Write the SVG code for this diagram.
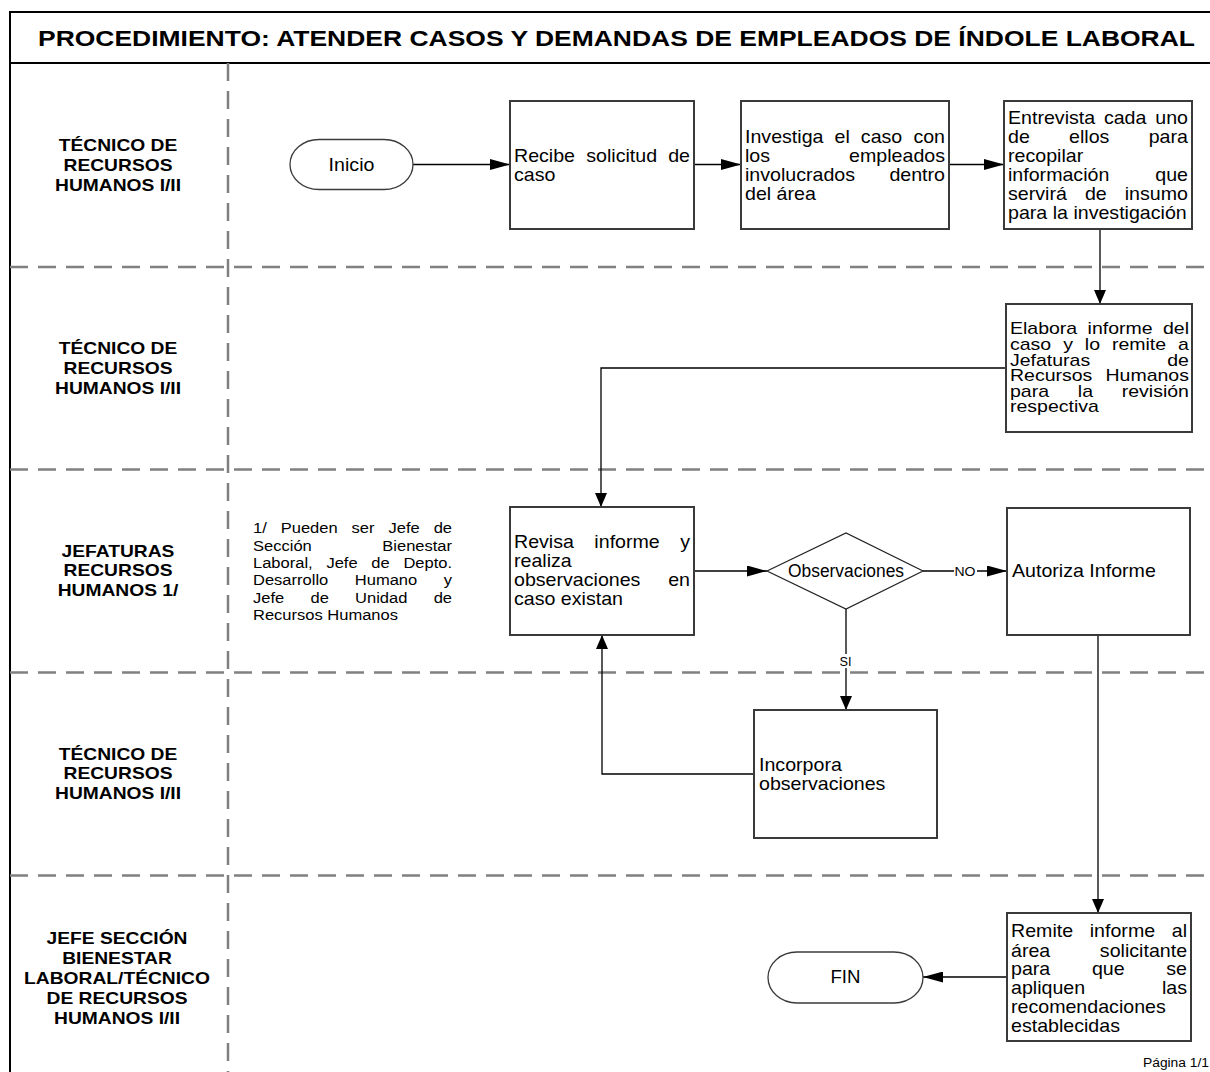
<svg xmlns="http://www.w3.org/2000/svg" width="1210" height="1072" viewBox="0 0 1210 1072">
<style>
.frame{stroke:#000;stroke-width:2;fill:none}
.lane{stroke:#808080;stroke-width:2.5;stroke-dasharray:18 10;fill:none}
.box{fill:#fff;stroke:#3a3a3a;stroke-width:2}
.term{fill:#fff;stroke:#3a3a3a;stroke-width:1.3}
.dec{fill:#fff;stroke:#222;stroke-width:1.2}
.con{fill:none;stroke:#000;stroke-width:1.3}
.t{font-family:"Liberation Sans",Arial,sans-serif;font-size:18px;fill:#000}
.t16{font-family:"Liberation Sans",Arial,sans-serif;font-size:16px;fill:#000}
.n{font-family:"Liberation Sans",Arial,sans-serif;font-size:14.5px;fill:#000}
.lbl{font-family:"Liberation Sans",Arial,sans-serif;font-size:16.3px;font-weight:bold;fill:#000;text-anchor:middle}
.title{font-family:"Liberation Sans",Arial,sans-serif;font-size:21.5px;font-weight:bold;fill:#000}
.small{font-family:"Liberation Sans",Arial,sans-serif;font-size:12px;fill:#000}
</style>
<defs>
<marker id="ah" viewBox="0 0 20 11" refX="20" refY="5.5" markerWidth="20" markerHeight="11" orient="auto" markerUnits="userSpaceOnUse"><path d="M0,0 L20,5.5 L0,11 z" fill="#000"/></marker>
<marker id="av" viewBox="0 0 14 12" refX="14" refY="6" markerWidth="14" markerHeight="12" orient="auto" markerUnits="userSpaceOnUse"><path d="M0,0 L14,6 L0,12 z" fill="#000"/></marker>
</defs>
<rect width="1210" height="1072" fill="#fff"/>

<g id="frame">
<path class="frame" d="M10,1072 V12 H1210 M10,63 H1210"/>
<text class="title" x="38" y="46" textLength="1157" lengthAdjust="spacingAndGlyphs">PROCEDIMIENTO: ATENDER CASOS Y DEMANDAS DE EMPLEADOS DE ÍNDOLE LABORAL</text>
</g>

<g id="lanes">
<path class="lane" d="M228,63 V1072"/>
<path class="lane" d="M10,267 H1210 M10,469.5 H1210 M10,672.5 H1210 M10,875.5 H1210"/>
<g id="lane1"><text class="lbl" transform="translate(118 0) scale(1.18 1)"><tspan x="0" y="151.3">TÉCNICO DE</tspan><tspan x="0" y="171">RECURSOS</tspan><tspan x="0" y="190.7">HUMANOS I/II</tspan></text></g>
<g id="lane2"><text class="lbl" transform="translate(118 0) scale(1.18 1)"><tspan x="0" y="354.3">TÉCNICO DE</tspan><tspan x="0" y="374">RECURSOS</tspan><tspan x="0" y="393.7">HUMANOS I/II</tspan></text></g>
<g id="lane3"><text class="lbl" transform="translate(118 0) scale(1.18 1)"><tspan x="0" y="556.8">JEFATURAS</tspan><tspan x="0" y="576.5">RECURSOS</tspan><tspan x="0" y="596.2">HUMANOS 1/</tspan></text></g>
<g id="lane4"><text class="lbl" transform="translate(118 0) scale(1.18 1)"><tspan x="0" y="759.8">TÉCNICO DE</tspan><tspan x="0" y="779.5">RECURSOS</tspan><tspan x="0" y="799.2">HUMANOS I/II</tspan></text></g>
<g id="lane5"><text class="lbl" transform="translate(117 0) scale(1.18 1)"><tspan x="0" y="944">JEFE SECCIÓN</tspan><tspan x="0" y="964">BIENESTAR</tspan><tspan x="0" y="984">LABORAL/TÉCNICO</tspan><tspan x="0" y="1004">DE RECURSOS</tspan><tspan x="0" y="1024">HUMANOS I/II</tspan></text></g>
</g>

<g id="connectors">
<path class="con" d="M413,164.5 H510" marker-end="url(#ah)"/>
<path class="con" d="M694,164.5 H741" marker-end="url(#ah)"/>
<path class="con" d="M949,164.5 H1004" marker-end="url(#ah)"/>
<path class="con" d="M1100,229 V304" marker-end="url(#av)"/>
<path class="con" d="M1006,368 H601 V507" marker-end="url(#av)"/>
<path class="con" d="M694,571 H767" marker-end="url(#ah)"/>
<path class="con" d="M923,571 H1007" marker-end="url(#ah)"/>
<path class="con" d="M846,609 V710" marker-end="url(#av)"/>
<path class="con" d="M754,774 H602 V635" marker-end="url(#av)"/>
<path class="con" d="M1098,635 V913" marker-end="url(#av)"/>
<path class="con" d="M1007,977 H923" marker-end="url(#ah)"/>
<rect x="954" y="564" width="23" height="14" fill="#fff"/>
<text class="small" x="954.5" y="575.5" textLength="21" lengthAdjust="spacingAndGlyphs">NO</text>
<rect x="838" y="654" width="16" height="14" fill="#fff"/>
<text class="small" x="839.5" y="665.5" textLength="12" lengthAdjust="spacingAndGlyphs">SI</text>
</g>

<g id="inicio">
<rect class="term" x="290" y="139.5" width="123" height="50" rx="29" ry="25"/>
<text class="t" transform="translate(351.5 0) scale(1.09 1)" text-anchor="middle" x="0" y="171">Inicio</text>
</g>

<g id="recibe">
<rect class="box" x="510" y="101" width="184" height="128"/>
<text class="t" transform="translate(514 0) scale(1.09 1)"><tspan x="0" y="162.5">Recibe</tspan><tspan x="66.27" y="162.5">solicitud</tspan><tspan x="161.5" y="162.5" text-anchor="end">de</tspan><tspan x="0" y="181.5">caso</tspan></text>
</g>

<g id="investiga">
<rect class="box" x="741" y="101" width="208" height="128"/>
<text class="t" transform="translate(745 0) scale(1.09 1)"><tspan x="0" y="143.5">Investiga</tspan><tspan x="82.17" y="143.5">el</tspan><tspan x="106.3" y="143.5">caso</tspan><tspan x="183.5" y="143.5" text-anchor="end">con</tspan><tspan x="0" y="162.5">los</tspan><tspan x="183.5" y="162.5" text-anchor="end">empleados</tspan><tspan x="0" y="181.5">involucrados</tspan><tspan x="183.5" y="181.5" text-anchor="end">dentro</tspan><tspan x="0" y="200.5">del área</tspan></text>
</g>

<g id="entrevista">
<rect class="box" x="1004" y="101" width="188" height="128"/>
<text class="t" transform="translate(1008 0) scale(1.09 1)"><tspan x="0" y="124">Entrevista</tspan><tspan x="88" y="124">cada</tspan><tspan x="165.1" y="124" text-anchor="end">uno</tspan><tspan x="0" y="143">de</tspan><tspan x="56.05" y="143">ellos</tspan><tspan x="165.1" y="143" text-anchor="end">para</tspan><tspan x="0" y="162">recopilar</tspan><tspan x="0" y="181">información</tspan><tspan x="165.1" y="181" text-anchor="end">que</tspan><tspan x="0" y="200">servirá</tspan><tspan x="70.55" y="200">de</tspan><tspan x="165.1" y="200" text-anchor="end">insumo</tspan><tspan x="0" y="219">para la investigación</tspan></text>
</g>

<g id="elabora">
<rect class="box" x="1006" y="304" width="186" height="128"/>
<text class="t16" transform="translate(1010 0) scale(1.22 1)"><tspan x="0" y="334.3">Elabora</tspan><tspan x="63.59" y="334.3">informe</tspan><tspan x="146.7" y="334.3" text-anchor="end">del</tspan><tspan x="0" y="350">caso</tspan><tspan x="43.57" y="350">y</tspan><tspan x="61.35" y="350">lo</tspan><tspan x="83.58" y="350">remite</tspan><tspan x="146.7" y="350" text-anchor="end">a</tspan><tspan x="0" y="365.7">Jefaturas</tspan><tspan x="146.7" y="365.7" text-anchor="end">de</tspan><tspan x="0" y="381">Recursos</tspan><tspan x="146.7" y="381" text-anchor="end">Humanos</tspan><tspan x="0" y="396.6">para</tspan><tspan x="55.57" y="396.6">la</tspan><tspan x="146.7" y="396.6" text-anchor="end">revisión</tspan><tspan x="0" y="411.7">respectiva</tspan></text>
</g>

<g id="nota">
<text class="n" transform="translate(253 0) scale(1.14 1)"><tspan x="0" y="533">1/</tspan><tspan x="24.31" y="533">Pueden</tspan><tspan x="86.51" y="533">ser</tspan><tspan x="118.87" y="533">Jefe</tspan><tspan x="174.6" y="533" text-anchor="end">de</tspan><tspan x="0" y="551">Sección</tspan><tspan x="174.6" y="551" text-anchor="end">Bienestar</tspan><tspan x="0" y="568">Laboral,</tspan><tspan x="64.38" y="568">Jefe</tspan><tspan x="103.78" y="568">de</tspan><tspan x="174.6" y="568" text-anchor="end">Depto.</tspan><tspan x="0" y="585">Desarrollo</tspan><tspan x="89.31" y="585">Humano</tspan><tspan x="174.6" y="585" text-anchor="end">y</tspan><tspan x="0" y="603">Jefe</tspan><tspan x="50.41" y="603">de</tspan><tspan x="89.53" y="603">Unidad</tspan><tspan x="174.6" y="603" text-anchor="end">de</tspan><tspan x="0" y="620">Recursos Humanos</tspan></text>
</g>

<g id="revisa">
<rect class="box" x="510" y="507" width="184" height="128"/>
<text class="t" transform="translate(514 0) scale(1.09 1)"><tspan x="0" y="548.5">Revisa</tspan><tspan x="73.75" y="548.5">informe</tspan><tspan x="161.5" y="548.5" text-anchor="end">y</tspan><tspan x="0" y="567.5">realiza</tspan><tspan x="0" y="586.5">observaciones</tspan><tspan x="161.5" y="586.5" text-anchor="end">en</tspan><tspan x="0" y="605.5">caso existan</tspan></text>
</g>

<g id="observaciones">
<polygon class="dec" points="767,571 846,533 923,571 846,609"/>
<text class="t" x="788" y="576.5" font-size="16" textLength="116" lengthAdjust="spacingAndGlyphs">Observaciones</text>
</g>

<g id="autoriza">
<rect class="box" x="1007" y="508" width="183" height="127"/>
<text class="t" transform="translate(1012 0) scale(1.09 1)" x="0" y="577.5">Autoriza Informe</text>
</g>

<g id="incorpora">
<rect class="box" x="754" y="710" width="183" height="128"/>
<text class="t" transform="translate(759 0) scale(1.09 1)"><tspan x="0" y="771.5">Incorpora</tspan><tspan x="0" y="790.5">observaciones</tspan></text>
</g>

<g id="remite">
<rect class="box" x="1007" y="913" width="184" height="128"/>
<text class="t" transform="translate(1011 0) scale(1.09 1)"><tspan x="0" y="937.5">Remite</tspan><tspan x="72.25" y="937.5">informe</tspan><tspan x="161.5" y="937.5" text-anchor="end">al</tspan><tspan x="0" y="956.5">área</tspan><tspan x="161.5" y="956.5" text-anchor="end">solicitante</tspan><tspan x="0" y="975.5">para</tspan><tspan x="74.25" y="975.5">que</tspan><tspan x="161.5" y="975.5" text-anchor="end">se</tspan><tspan x="0" y="994.5">apliquen</tspan><tspan x="161.5" y="994.5" text-anchor="end">las</tspan><tspan x="0" y="1013.5">recomendaciones</tspan><tspan x="0" y="1032.5">establecidas</tspan></text>
</g>

<g id="fin">
<rect class="term" x="768" y="952" width="155" height="51" rx="29" ry="25.5"/>
<text class="t" x="830.5" y="982.5" font-size="16" textLength="30" lengthAdjust="spacingAndGlyphs">FIN</text>
</g>

<g id="pagina">
<text class="small" x="1143" y="1067" textLength="66" lengthAdjust="spacingAndGlyphs">Página 1/1</text>
</g>
</svg>
